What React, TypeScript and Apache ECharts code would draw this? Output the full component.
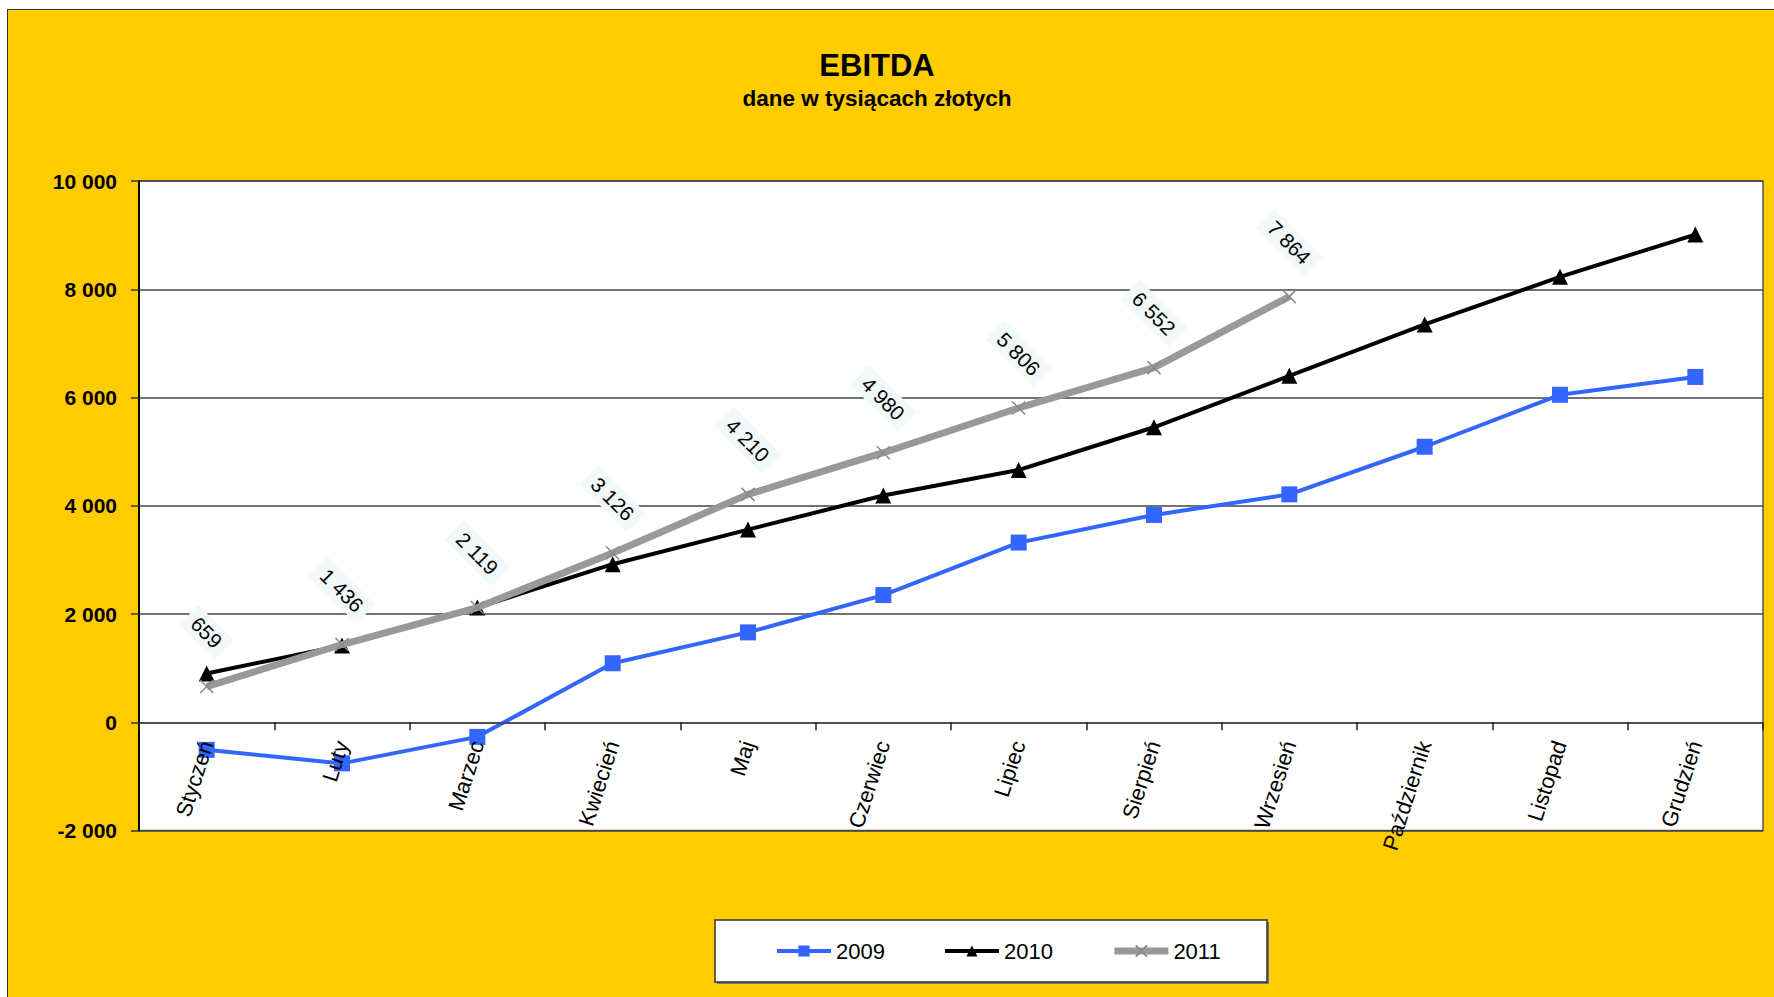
import React, { useEffect, useRef } from "react";
import * as echarts from "echarts";

const months = [
  "Styczeń", "Luty", "Marzec", "Kwiecień", "Maj", "Czerwiec",
  "Lipiec", "Sierpień", "Wrzesień", "Październik", "Listopad", "Grudzień",
];
const seriesNames = ["2009", "2010", "2011"];
const values2009 = [-510, -760, -270, 1090, 1660, 2350, 3320, 3830, 4210, 5090, 6050, 6380];
const values2010 = [900, 1420, 2120, 2920, 3560, 4190, 4660, 5450, 6400, 7350, 8230, 9010];
const values2011 = [659, 1436, 2119, 3126, 4210, 4980, 5806, 6552, 7864, null, null, null];
const yMin = -2000;
const yMax = 10000;
const yStep = 2000;
const titleText = "EBITDA";
const subtitleText = "dane w tysiącach złotych";

const FONT = "'Liberation Sans', Arial, sans-serif";
const BLUE = "#3366FF";
const GRAY = "#999999";

function fmt(v: number): string {
  const s = Math.abs(Math.round(v)).toString().replace(/\B(?=(\d{3})+(?!\d))/g, " ");
  return (v < 0 ? "-" : "") + s;
}

export default function App() {
  const ref = useRef<HTMLDivElement>(null);

  useEffect(() => {
    if (!ref.current) return;
    const chart = echarts.init(ref.current, undefined, { renderer: "svg" });
    chart.setOption({
      animation: false,
      backgroundColor: "#FFCC00",
      textStyle: { fontFamily: FONT },
      graphic: [
        {
          type: "text",
          x: 869,
          y: 55,
          z: 10,
          style: {
            text: titleText,
            font: `bold 31px ${FONT}`,
            fill: "#000",
            textAlign: "center",
            textVerticalAlign: "middle",
          },
        },
        {
          type: "text",
          x: 869,
          y: 88,
          z: 10,
          style: {
            text: subtitleText,
            font: `bold 22.5px ${FONT}`,
            fill: "#000",
            textAlign: "center",
            textVerticalAlign: "middle",
          },
        },
        {
          type: "rect",
          x: 709,
          y: 912,
          z: 0,
          shape: { width: 552, height: 62 },
          style: { fill: "#777" },
        },
        {
          type: "rect",
          x: 707,
          y: 910,
          z: 1,
          shape: { width: 552, height: 62 },
          style: { fill: "#fff", stroke: "#333", lineWidth: 1.5 },
        },
      ],
      legend: {
        data: [
          { name: seriesNames[0], lineStyle: { width: 4 } },
          { name: seriesNames[1], lineStyle: { width: 4 } },
          { name: seriesNames[2], lineStyle: { width: 7 } },
        ],
        left: 767,
        top: 930,
        padding: 0,
        itemWidth: 54,
        itemHeight: 14,
        itemGap: 58,
        z: 5,
        textStyle: { fontSize: 22, color: "#000", fontFamily: FONT },
      },
      grid: {
        left: 131,
        top: 171,
        right: 12,
        bottom: 167.5,
        show: true,
        backgroundColor: "#fff",
        borderColor: "#555",
        borderWidth: 1.5,
      },
      xAxis: {
        type: "category",
        data: months,
        boundaryGap: true,
        z: 6,
        axisLine: { onZero: true, lineStyle: { color: "#444", width: 1.5 } },
        axisTick: { show: true, length: 8, interval: 0, lineStyle: { color: "#222", width: 1.5 } },
        axisLabel: {
          interval: 0,
          rotate: 72,
          fontSize: 22,
          margin: -89,
          color: "#000",
          fontFamily: FONT,
        },
        splitLine: { show: false },
      },
      yAxis: {
        type: "value",
        min: yMin,
        max: yMax,
        interval: yStep,
        axisLine: { show: true, lineStyle: { color: "#000", width: 2 } },
        axisTick: { show: true, length: 8, lineStyle: { color: "#333", width: 1.5 } },
        axisLabel: {
          margin: 22,
          fontSize: 21,
          fontWeight: "bold",
          color: "#000",
          fontFamily: FONT,
          formatter: (v: number) => fmt(v),
        },
        splitLine: { show: true, lineStyle: { color: "#444", width: 1.5 } },
      },
      series: [
        {
          name: seriesNames[0],
          type: "line",
          data: values2009,
          symbol: "rect",
          symbolSize: 16,
          lineStyle: { color: BLUE, width: 4 },
          itemStyle: { color: BLUE },
          z: 2,
        },
        {
          name: seriesNames[1],
          type: "line",
          data: values2010,
          symbol: "triangle",
          symbolSize: 16,
          lineStyle: { color: "#000", width: 4 },
          itemStyle: { color: "#000" },
          z: 3,
        },
        {
          name: seriesNames[2],
          type: "line",
          data: values2011,
          connectNulls: false,
          symbol: "path://M0,0L10,10M10,0L0,10",
          symbolSize: 13,
          lineStyle: { color: GRAY, width: 7 },
          itemStyle: { color: GRAY, borderColor: "#8a8a8a", borderWidth: 1.5 },
          z: 4,
          label: {
            show: true,
            position: "top",
            distance: 47,
            rotate: -45,
            align: "center",
            verticalAlign: "middle",
            fontSize: 20.5,
            color: "#000",
            fontFamily: FONT,
            backgroundColor: "#f1f9f9",
            padding: [3, 8],
            formatter: (p: any) => fmt(p.value),
          },
        },
      ],
    });
    return () => chart.dispose();
  }, []);

  return (
    <div
      style={{
        position: "fixed",
        left: 7,
        top: 9,
        borderTop: "1px solid #333",
        borderLeft: "1px solid #333",
        background: "#FFCC00",
      }}
    >
      <div ref={ref} style={{ width: 1767, height: 988 }} />
    </div>
  );
}
